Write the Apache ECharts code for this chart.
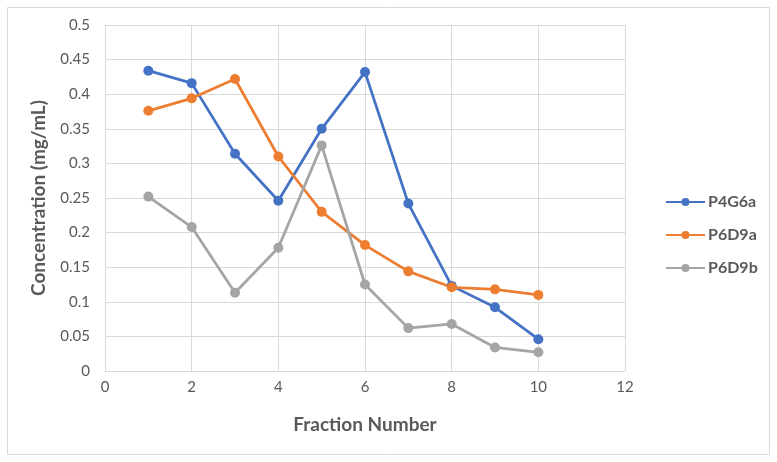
<!DOCTYPE html>
<html><head><meta charset="utf-8">
<script src="https://cdn.jsdelivr.net/npm/echarts@6/dist/echarts.min.js"></script>
<style>html,body{margin:0;padding:0;background:#fff}#c{width:777px;height:462px}</style>
</head><body><div id="c"></div>
<script>
const fractions = [1,2,3,4,5,6,7,8,9,10];
const seriesNames = ['P4G6a','P6D9a','P6D9b'];
const p4g6a = [0.434,0.416,0.314,0.246,0.350,0.432,0.242,0.123,0.092,0.046];
const p6d9a = [0.376,0.394,0.422,0.310,0.230,0.182,0.144,0.121,0.118,0.110];
const p6d9b = [0.252,0.208,0.113,0.178,0.326,0.125,0.062,0.068,0.034,0.027];
const colors = ['#4472C4','#ED7D31','#A5A5A5'];
const font = 'Lato, "Open Sans", sans-serif';
const chart = echarts.init(document.getElementById('c'));
function mk(name, vals, color){
  return {name, type:'line', data: fractions.map((f,i)=>[f, vals[i]]),
    symbol:'circle', symbolSize:10, lineStyle:{width:2.75,color}, itemStyle:{color}};
}
chart.setOption({
  animation:false,
  textStyle:{fontFamily:font},
  grid:{left:105, top:25, right:152, bottom:91},
  graphic:[{type:'rect', shape:{x:7.5,y:7.5,width:762,height:447}, style:{fill:'none', stroke:'#d9d9d9', lineWidth:1}, silent:true}],
  legend:{orient:'vertical', left:660, top:189, itemWidth:39, itemHeight:10, itemGap:17,
    textStyle:{fontSize:16, fontWeight:'bold', color:'#595959', fontFamily:font, padding:[0,0,0,-2]}, data:seriesNames},
  xAxis:{type:'value', min:0, max:12, interval:2,
    name:'Fraction Number', nameLocation:'middle', nameGap:44,
    nameTextStyle:{fontSize:19, fontWeight:'bold', color:'#595959', fontFamily:font},
    axisLine:{show:true, lineStyle:{color:'#d9d9d9'}}, axisTick:{show:false},
    axisLabel:{color:'#595959', fontSize:15, margin:9, fontFamily:font},
    splitLine:{show:true, lineStyle:{color:'#d9d9d9', width:1}}},
  yAxis:{type:'value', min:0, max:0.5, interval:0.05,
    name:'Concentration (mg/mL)', nameLocation:'middle', nameGap:57,
    nameTextStyle:{fontSize:19, fontWeight:'bold', color:'#595959', fontFamily:font},
    axisLine:{show:true, lineStyle:{color:'#d9d9d9'}}, axisTick:{show:false},
    axisLabel:{color:'#595959', fontSize:15, margin:15, fontFamily:font,
      formatter: v => String(+v.toFixed(2))},
    splitLine:{show:true, lineStyle:{color:'#d9d9d9', width:1}}},
  series:[mk(seriesNames[0], p4g6a, colors[0]), mk(seriesNames[1], p6d9a, colors[1]), mk(seriesNames[2], p6d9b, colors[2])]
});
</script></body></html>
